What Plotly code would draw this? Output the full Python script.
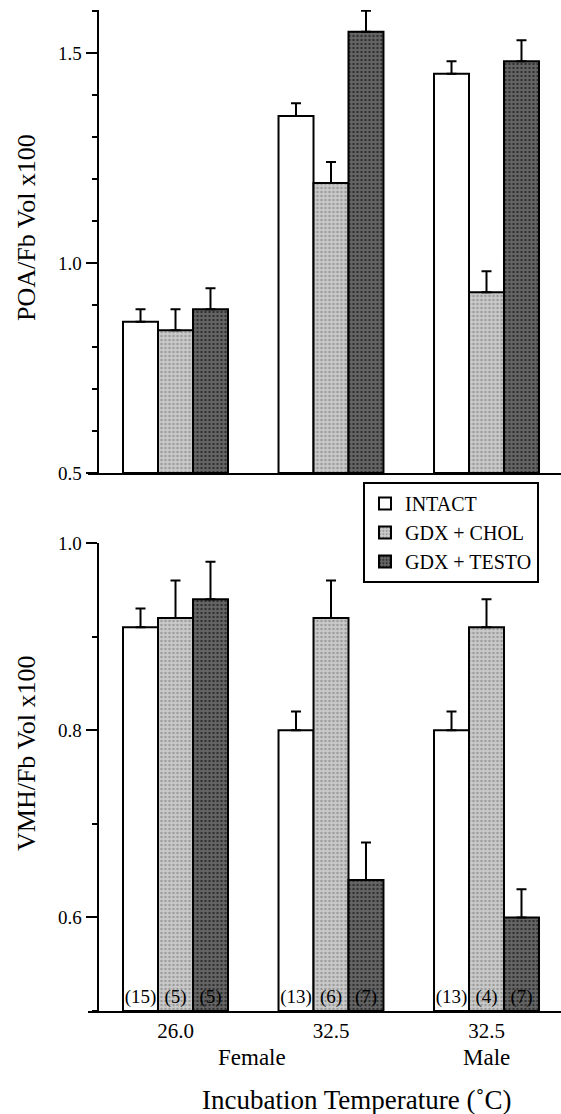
import plotly.graph_objects as go

# ---- data ----
temp_labels = ["26.0", "32.5", "32.5"]
sex_labels = ["Female", "Male"]
series = ["INTACT", "GDX + CHOL", "GDX + TESTO"]

poa_intact = [0.86, 1.35, 1.45]
poa_chol = [0.84, 1.19, 0.93]
poa_testo = [0.89, 1.55, 1.48]
poa_err_intact = [0.03, 0.03, 0.03]
poa_err_chol = [0.05, 0.05, 0.05]
poa_err_testo = [0.05, 0.05, 0.05]

vmh_intact = [0.91, 0.80, 0.80]
vmh_chol = [0.92, 0.92, 0.91]
vmh_testo = [0.94, 0.64, 0.60]
vmh_err_intact = [0.02, 0.02, 0.02]
vmh_err_chol = [0.04, 0.04, 0.03]
vmh_err_testo = [0.04, 0.04, 0.03]

n_intact = ["(15)", "(13)", "(13)"]
n_chol = ["(5)", "(6)", "(4)"]
n_testo = ["(5)", "(7)", "(7)"]

BASE = 0.5

# ---- styling ----
W, H = 561, 1114
FONT = "Liberation Serif"
xs = list(range(len(temp_labels)))

styles = [
    dict(color="white", pattern=None),
    dict(color="#c6c6c6", pattern=dict(shape=".", bgcolor="#cacaca", fgcolor="#9a9a9a",
                                       size=4, solidity=0.3, fillmode="replace")),
    dict(color="#5e5e5e", pattern=dict(shape=".", bgcolor="#666666", fgcolor="#303030",
                                       size=4, solidity=0.3, fillmode="replace")),
]


def px_x(p):
    return p / W


def px_y(p):
    return 1 - p / H


fig = go.Figure()

top_vals = [poa_intact, poa_chol, poa_testo]
top_errs = [poa_err_intact, poa_err_chol, poa_err_testo]
bot_vals = [vmh_intact, vmh_chol, vmh_testo]
bot_errs = [vmh_err_intact, vmh_err_chol, vmh_err_testo]
n_texts = [n_intact, n_chol, n_testo]


def make_marker(st):
    m = dict(color=st["color"], line=dict(color="black", width=2))
    if st["pattern"]:
        m["pattern"] = st["pattern"]
    return m


for i, name in enumerate(series):
    fig.add_trace(go.Bar(
        x=xs, y=[v - BASE for v in top_vals[i]], base=BASE, name=name,
        marker=make_marker(styles[i]),
        xaxis="x", yaxis="y", showlegend=True, legendgroup=name,
        error_y=dict(type="data", array=top_errs[i], arrayminus=[0] * 3,
                     symmetric=False, color="black", thickness=2, width=5),
    ))
for i, name in enumerate(series):
    fig.add_trace(go.Bar(
        x=xs, y=[v - BASE for v in bot_vals[i]], base=BASE, name=name,
        marker=make_marker(styles[i]),
        xaxis="x2", yaxis="y2", showlegend=False, legendgroup=name,
        text=n_texts[i], textposition="inside", insidetextanchor="start",
        constraintext="none", textangle=0,
        textfont=dict(family=FONT, size=19, color="black"),
        error_y=dict(type="data", array=bot_errs[i], arrayminus=[0] * 3,
                     symmetric=False, color="black", thickness=2, width=5),
    ))

x_left_px, axis_px = 87.5, 97.5
c0, step = 175.5, 155.5
x_range = [-(c0 - x_left_px) / step, 2 + (W - (c0 + 2 * step)) / step]

axis_common = dict(showline=True, linecolor="black", linewidth=2, showgrid=False,
                   zeroline=False, automargin=False)

fig.update_layout(
    template="none",
    width=W, height=H,
    margin=dict(l=0, r=0, t=0, b=0, pad=0),
    paper_bgcolor="white", plot_bgcolor="white",
    barmode="group", bargap=0.325, bargroupgap=0,
    font=dict(family=FONT, color="black", size=19),
    xaxis=dict(domain=[px_x(x_left_px), 1], range=x_range, anchor="y",
               showticklabels=False, ticks="", **axis_common),
    yaxis=dict(domain=[px_y(473), px_y(10)], range=[0.5, 1.602], anchor="free",
               position=px_x(axis_px), tick0=0.5, dtick=0.5, tickformat=".1f",
               ticks="outside", ticklen=11, tickwidth=2, tickcolor="black",
               tickfont=dict(family=FONT, size=19),
               minor=dict(dtick=0.1, ticks="outside", ticklen=5, tickwidth=1.5,
                          tickcolor="black", showgrid=False),
               **axis_common),
    xaxis2=dict(domain=[px_x(x_left_px), 1], range=x_range, anchor="y2",
                tickvals=xs, ticktext=temp_labels, ticks="",
                tickfont=dict(family=FONT, size=21), ticklabelstandoff=0,
                **axis_common),
    yaxis2=dict(domain=[px_y(1011), px_y(543)], range=[0.5, 1.0], anchor="free",
                position=px_x(axis_px), tick0=0.6, dtick=0.2, tickformat=".1f",
                ticks="outside", ticklen=11, tickwidth=2, tickcolor="black",
                tickfont=dict(family=FONT, size=19),
                minor=dict(dtick=0.1, ticks="outside", ticklen=5, tickwidth=1.5,
                           tickcolor="black", showgrid=False),
                **axis_common),
    legend=dict(x=px_x(363), y=px_y(482), xanchor="left", yanchor="top",
                bordercolor="black", borderwidth=2, bgcolor="white",
                font=dict(family=FONT, size=20), tracegroupgap=0,
                itemwidth=30),
)

annotations = [
    dict(text="POA/Fb Vol x100", xref="paper", yref="paper", x=px_x(26), y=px_y(228),
         xanchor="center", yanchor="middle",
         textangle=-90, showarrow=False, font=dict(family=FONT, size=26)),
    dict(text="VMH/Fb Vol x100", xref="paper", yref="paper", x=px_x(26), y=px_y(753),
         xanchor="center", yanchor="middle",
         textangle=-90, showarrow=False, font=dict(family=FONT, size=26)),
    dict(text="Incubation Temperature (˚C)", xref="paper", yref="paper",
         x=px_x(357), y=px_y(1100), xanchor="center", yanchor="middle",
         showarrow=False, font=dict(family=FONT, size=27)),
    dict(text=sex_labels[0], xref="x2", yref="paper", x=0.49, y=px_y(1057),
         xanchor="center", yanchor="middle",
         showarrow=False, font=dict(family=FONT, size=23)),
    dict(text=sex_labels[1], xref="x2", yref="paper", x=2, y=px_y(1057),
         xanchor="center", yanchor="middle",
         showarrow=False, font=dict(family=FONT, size=23)),
]
fig.update_layout(annotations=annotations)

fig.write_html("out.html")
